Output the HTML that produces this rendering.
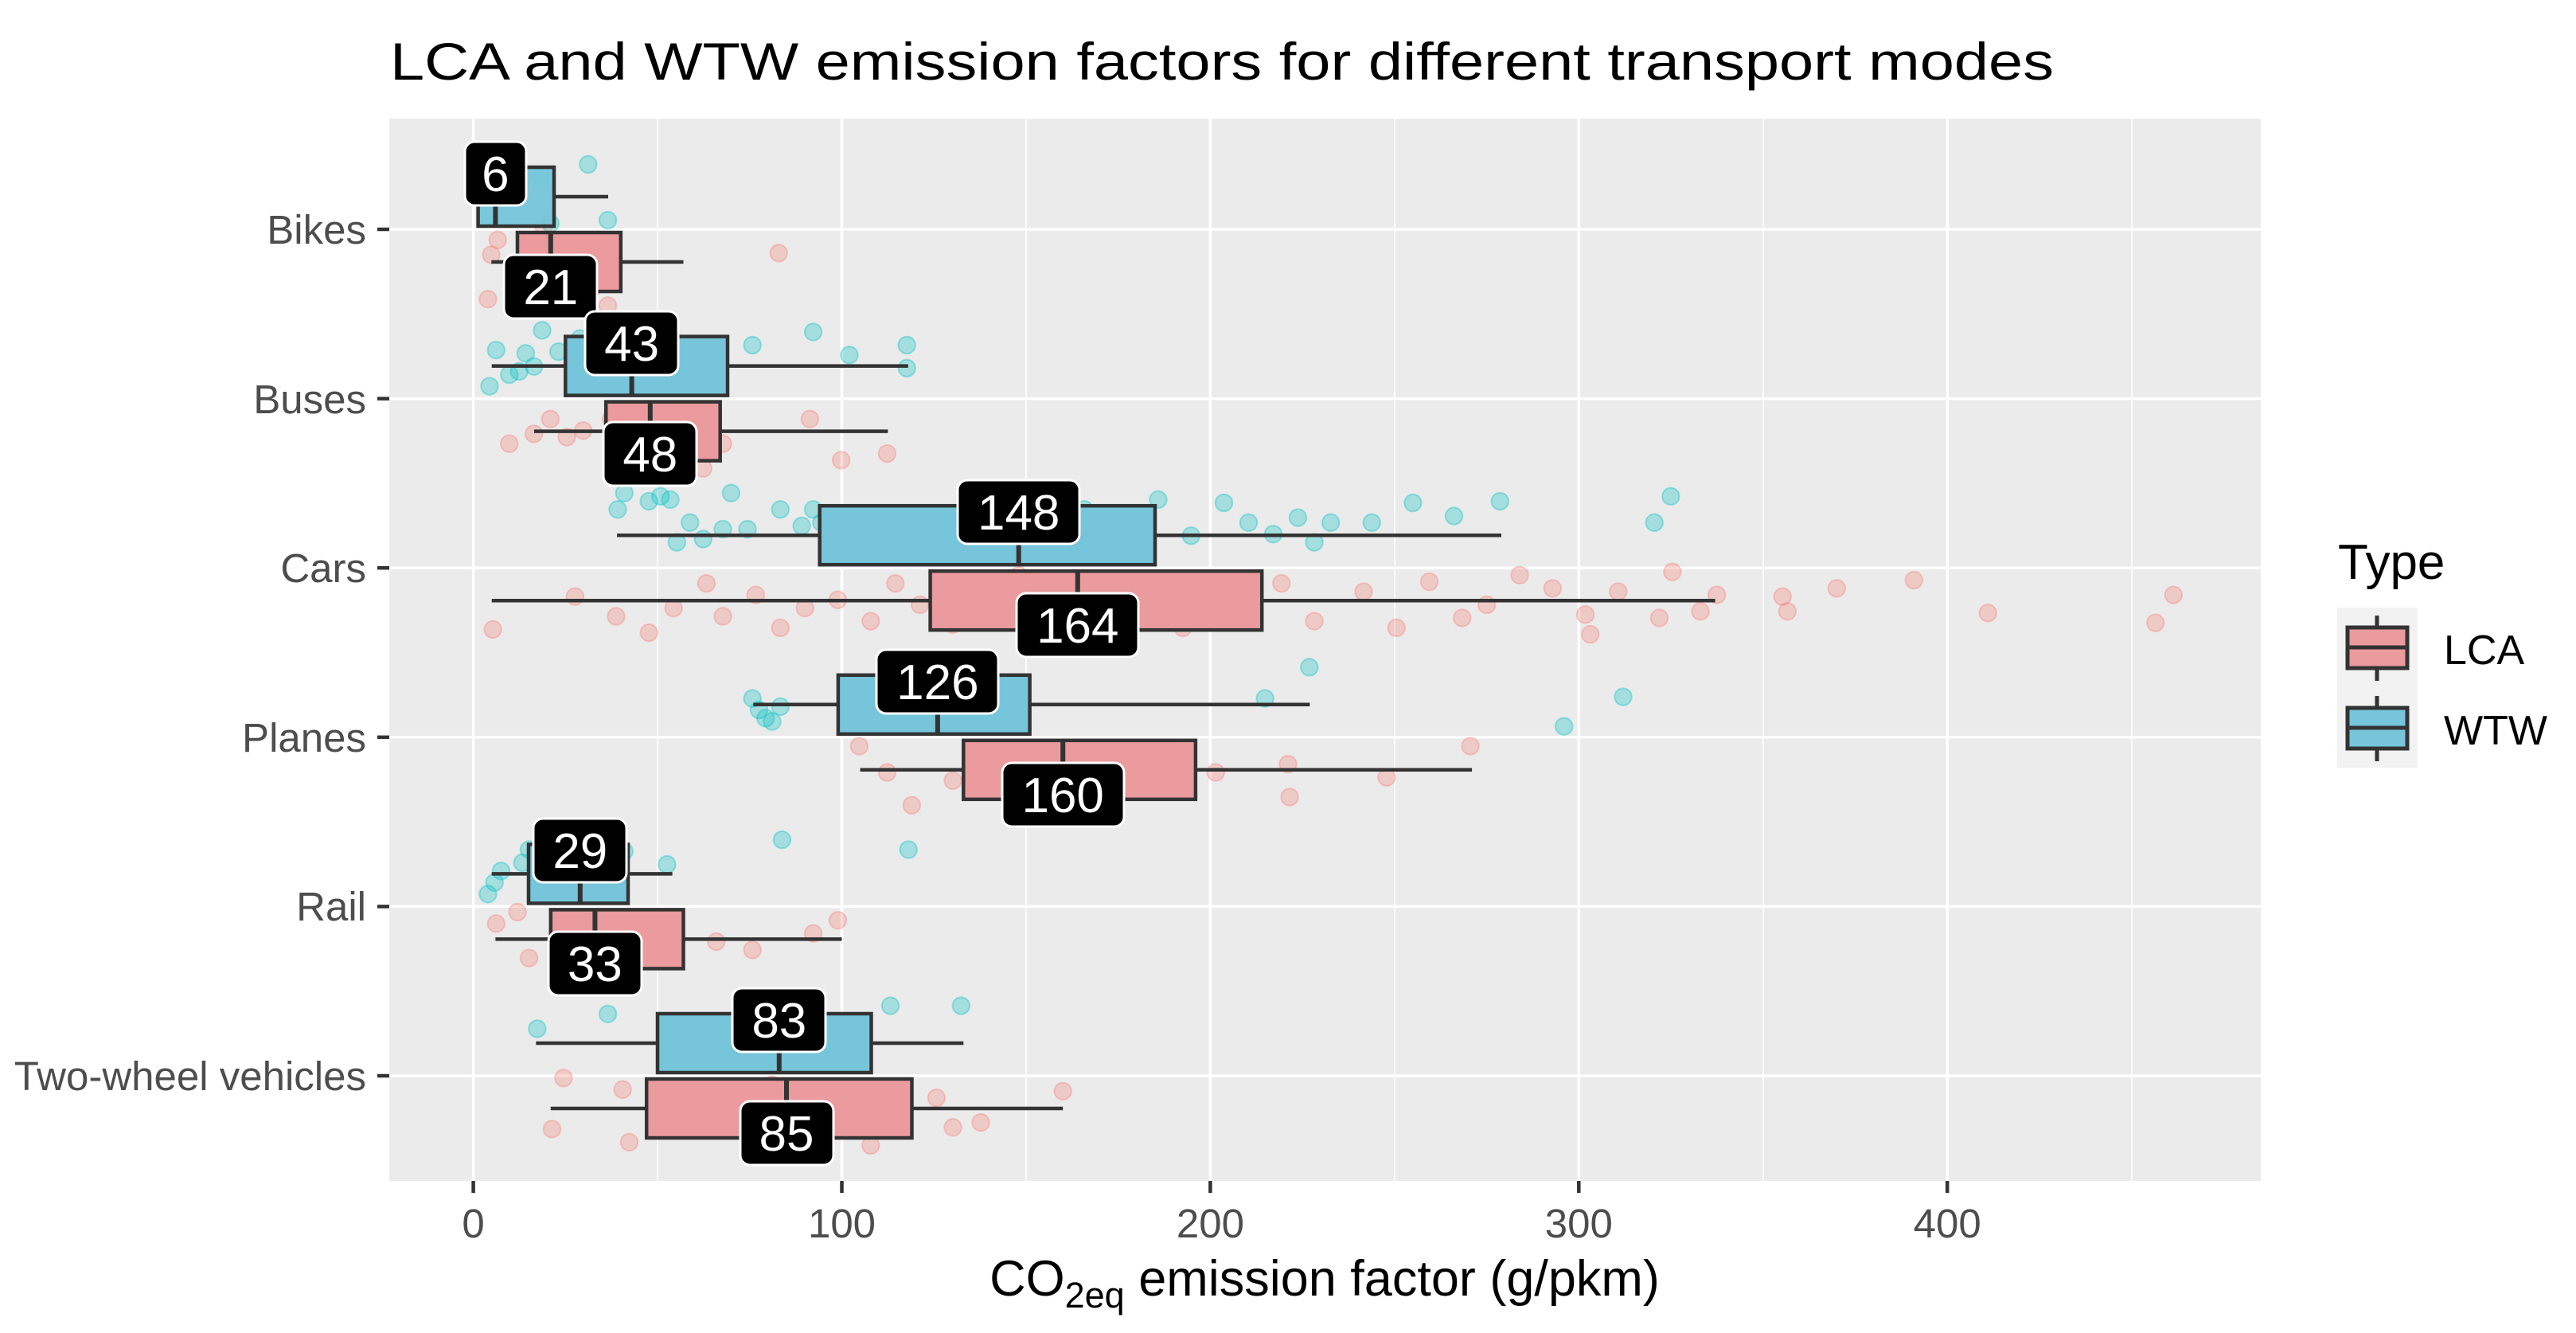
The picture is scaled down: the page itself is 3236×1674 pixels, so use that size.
<!DOCTYPE html>
<html><head><meta charset="utf-8"><style>
html,body{margin:0;padding:0;background:#fff;}
svg{display:block;font-family:"Liberation Sans",Arial,sans-serif;}
</style></head><body>
<svg width="3236" height="1674" viewBox="0 0 3236 1674" xmlns="http://www.w3.org/2000/svg">
<rect width="3236" height="1674" fill="#fff"/>
<text x="490" y="100" font-size="66" fill="#000" textLength="2090" lengthAdjust="spacingAndGlyphs">LCA and WTW emission factors for different transport modes</text>
<!-- panel -->
<rect x="489" y="149" width="2351" height="1334" fill="#ebebeb"/>
<g stroke="#fff" stroke-width="1.6">
<line x1="826" y1="149" x2="826" y2="1483"/><line x1="1289" y1="149" x2="1289" y2="1483"/><line x1="1752" y1="149" x2="1752" y2="1483"/><line x1="2215" y1="149" x2="2215" y2="1483"/><line x1="2678" y1="149" x2="2678" y2="1483"/>
</g>
<g stroke="#fff" stroke-width="3.5">
<line x1="594.6" y1="149" x2="594.6" y2="1483"/><line x1="1057.5" y1="149" x2="1057.5" y2="1483"/><line x1="1520.4" y1="149" x2="1520.4" y2="1483"/><line x1="1983.3" y1="149" x2="1983.3" y2="1483"/><line x1="2446.2" y1="149" x2="2446.2" y2="1483"/>
<line x1="489" y1="288" x2="2840" y2="288"/><line x1="489" y1="500.6" x2="2840" y2="500.6"/><line x1="489" y1="713.2" x2="2840" y2="713.2"/><line x1="489" y1="925.8" x2="2840" y2="925.8"/><line x1="489" y1="1138.4" x2="2840" y2="1138.4"/><line x1="489" y1="1351" x2="2840" y2="1351"/>
</g>
<!-- points -->
<g transform="scale(2.0638)">
<g fill="#00BFC4" fill-opacity="0.3" stroke="#00BFC4" stroke-opacity="0.35" stroke-width="1">
<circle cx="358" cy="100" r="5.2"/><circle cx="329" cy="108" r="5.2"/><circle cx="370" cy="134" r="5.2"/><circle cx="335" cy="136" r="5.2"/><circle cx="296" cy="128" r="5.2"/>
<circle cx="298" cy="235" r="5.2"/><circle cx="302" cy="213" r="5.2"/><circle cx="320" cy="215" r="5.2"/><circle cx="330" cy="201" r="5.2"/><circle cx="310" cy="228" r="5.2"/><circle cx="316" cy="226" r="5.2"/><circle cx="325" cy="223" r="5.2"/><circle cx="340" cy="214" r="5.2"/><circle cx="353" cy="206" r="5.2"/><circle cx="407" cy="212" r="5.2"/><circle cx="458" cy="210" r="5.2"/><circle cx="495" cy="202" r="5.2"/><circle cx="517" cy="216" r="5.2"/><circle cx="552" cy="210" r="5.2"/><circle cx="552" cy="224" r="5.2"/><circle cx="430" cy="228" r="5.2"/><circle cx="423" cy="230" r="5.2"/><circle cx="436" cy="235" r="5.2"/><circle cx="425" cy="220" r="5.2"/><circle cx="410" cy="235" r="5.2"/>
<circle cx="376" cy="310" r="5.2"/><circle cx="380" cy="300" r="5.2"/><circle cx="395" cy="305" r="5.2"/><circle cx="402" cy="302" r="5.2"/><circle cx="408" cy="304" r="5.2"/><circle cx="412" cy="330" r="5.2"/><circle cx="420" cy="318" r="5.2"/><circle cx="428" cy="328" r="5.2"/><circle cx="440" cy="322" r="5.2"/><circle cx="455" cy="322" r="5.2"/><circle cx="488" cy="320" r="5.2"/><circle cx="495" cy="310" r="5.2"/><circle cx="500" cy="318" r="5.2"/><circle cx="540" cy="325" r="5.2"/><circle cx="560" cy="322" r="5.2"/><circle cx="570" cy="330" r="5.2"/><circle cx="590" cy="305" r="5.2"/><circle cx="640" cy="320" r="5.2"/><circle cx="660" cy="310" r="5.2"/><circle cx="680" cy="318" r="5.2"/><circle cx="705" cy="304" r="5.2"/><circle cx="725" cy="326" r="5.2"/><circle cx="745" cy="306" r="5.2"/><circle cx="760" cy="318" r="5.2"/><circle cx="775" cy="325" r="5.2"/><circle cx="790" cy="315" r="5.2"/><circle cx="800" cy="330" r="5.2"/><circle cx="810" cy="318" r="5.2"/><circle cx="835" cy="318" r="5.2"/><circle cx="860" cy="306" r="5.2"/><circle cx="885" cy="314" r="5.2"/><circle cx="913" cy="305" r="5.2"/><circle cx="1017" cy="302" r="5.2"/><circle cx="1007" cy="318" r="5.2"/><circle cx="445" cy="300" r="5.2"/><circle cx="475" cy="310" r="5.2"/>
<circle cx="458" cy="425" r="5.2"/><circle cx="462" cy="432" r="5.2"/><circle cx="466" cy="437" r="5.2"/><circle cx="470" cy="439" r="5.2"/><circle cx="475" cy="430" r="5.2"/><circle cx="797" cy="406" r="5.2"/><circle cx="988" cy="424" r="5.2"/><circle cx="952" cy="442" r="5.2"/><circle cx="770" cy="425" r="5.2"/><circle cx="560" cy="420" r="5.2"/>
<circle cx="297" cy="544" r="5.2"/><circle cx="301" cy="537" r="5.2"/><circle cx="305" cy="530" r="5.2"/><circle cx="318" cy="525" r="5.2"/><circle cx="322" cy="517" r="5.2"/><circle cx="330" cy="522" r="5.2"/><circle cx="345" cy="533" r="5.2"/><circle cx="380" cy="518" r="5.2"/><circle cx="406" cy="526" r="5.2"/><circle cx="476" cy="511" r="5.2"/><circle cx="553" cy="517" r="5.2"/>
<circle cx="327" cy="626" r="5.2"/><circle cx="370" cy="617" r="5.2"/><circle cx="432" cy="637" r="5.2"/><circle cx="451" cy="612" r="5.2"/><circle cx="542" cy="612" r="5.2"/><circle cx="585" cy="612" r="5.2"/>
</g>
<g fill="#F8766D" fill-opacity="0.28" stroke="#F8766D" stroke-opacity="0.33" stroke-width="1">
<circle cx="474" cy="154" r="5.2"/><circle cx="299" cy="155" r="5.2"/><circle cx="303" cy="146" r="5.2"/><circle cx="360" cy="176" r="5.2"/><circle cx="350" cy="168" r="5.2"/><circle cx="370" cy="186" r="5.2"/><circle cx="297" cy="182" r="5.2"/><circle cx="331" cy="138" r="5.2"/>
<circle cx="325" cy="264" r="5.2"/><circle cx="335" cy="255" r="5.2"/><circle cx="345" cy="266" r="5.2"/><circle cx="355" cy="262" r="5.2"/><circle cx="372" cy="255" r="5.2"/><circle cx="390" cy="250" r="5.2"/><circle cx="425" cy="270" r="5.2"/><circle cx="427" cy="262" r="5.2"/><circle cx="440" cy="270" r="5.2"/><circle cx="493" cy="255" r="5.2"/><circle cx="512" cy="280" r="5.2"/><circle cx="540" cy="276" r="5.2"/><circle cx="310" cy="270" r="5.2"/><circle cx="428" cy="285" r="5.2"/>
<circle cx="300" cy="383" r="5.2"/><circle cx="350" cy="363" r="5.2"/><circle cx="375" cy="375" r="5.2"/><circle cx="395" cy="385" r="5.2"/><circle cx="410" cy="370" r="5.2"/><circle cx="430" cy="355" r="5.2"/><circle cx="440" cy="375" r="5.2"/><circle cx="460" cy="362" r="5.2"/><circle cx="475" cy="382" r="5.2"/><circle cx="490" cy="370" r="5.2"/><circle cx="510" cy="365" r="5.2"/><circle cx="530" cy="378" r="5.2"/><circle cx="545" cy="355" r="5.2"/><circle cx="560" cy="368" r="5.2"/><circle cx="580" cy="380" r="5.2"/><circle cx="600" cy="358" r="5.2"/><circle cx="640" cy="372" r="5.2"/><circle cx="700" cy="360" r="5.2"/><circle cx="720" cy="382" r="5.2"/><circle cx="740" cy="365" r="5.2"/><circle cx="760" cy="372" r="5.2"/><circle cx="780" cy="355" r="5.2"/><circle cx="800" cy="378" r="5.2"/><circle cx="830" cy="360" r="5.2"/><circle cx="850" cy="382" r="5.2"/><circle cx="870" cy="354" r="5.2"/><circle cx="890" cy="376" r="5.2"/><circle cx="905" cy="368" r="5.2"/><circle cx="925" cy="350" r="5.2"/><circle cx="945" cy="358" r="5.2"/><circle cx="965" cy="374" r="5.2"/><circle cx="968" cy="386" r="5.2"/><circle cx="985" cy="360" r="5.2"/><circle cx="1010" cy="376" r="5.2"/><circle cx="1018" cy="348" r="5.2"/><circle cx="1035" cy="372" r="5.2"/><circle cx="1045" cy="362" r="5.2"/><circle cx="1085" cy="363" r="5.2"/><circle cx="1088" cy="372" r="5.2"/><circle cx="1118" cy="358" r="5.2"/><circle cx="1165" cy="353" r="5.2"/><circle cx="1210" cy="373" r="5.2"/><circle cx="1312" cy="379" r="5.2"/><circle cx="1323" cy="362" r="5.2"/><circle cx="680" cy="390" r="5.2"/><circle cx="620" cy="350" r="5.2"/>
<circle cx="523" cy="454" r="5.2"/><circle cx="540" cy="470" r="5.2"/><circle cx="555" cy="490" r="5.2"/><circle cx="580" cy="475" r="5.2"/><circle cx="680" cy="460" r="5.2"/><circle cx="740" cy="470" r="5.2"/><circle cx="785" cy="485" r="5.2"/><circle cx="844" cy="473" r="5.2"/><circle cx="895" cy="454" r="5.2"/><circle cx="784" cy="465" r="5.2"/><circle cx="620" cy="485" r="5.2"/>
<circle cx="302" cy="562" r="5.2"/><circle cx="315" cy="555" r="5.2"/><circle cx="322" cy="583" r="5.2"/><circle cx="340" cy="566" r="5.2"/><circle cx="348" cy="578" r="5.2"/><circle cx="372" cy="570" r="5.2"/><circle cx="410" cy="565" r="5.2"/><circle cx="436" cy="573" r="5.2"/><circle cx="458" cy="578" r="5.2"/><circle cx="495" cy="568" r="5.2"/><circle cx="510" cy="560" r="5.2"/>
<circle cx="336" cy="687" r="5.2"/><circle cx="343" cy="656" r="5.2"/><circle cx="379" cy="663" r="5.2"/><circle cx="383" cy="695" r="5.2"/><circle cx="400" cy="676" r="5.2"/><circle cx="456" cy="670" r="5.2"/><circle cx="530" cy="697" r="5.2"/><circle cx="570" cy="668" r="5.2"/><circle cx="580" cy="686" r="5.2"/><circle cx="597" cy="683" r="5.2"/><circle cx="647" cy="664" r="5.2"/><circle cx="470" cy="660" r="5.2"/>
</g>
</g>
<!-- boxes -->
<g stroke="#333" stroke-width="4.5">
<line x1="696" y1="247" x2="764" y2="247"/><rect x="600.6" y="210" width="95.4" height="74" fill="#76c5da" fill-opacity="0.95"/><line x1="622.4" y1="210" x2="622.4" y2="284" stroke-width="6"/>
<line x1="617.3" y1="329" x2="650" y2="329"/><line x1="779.8" y1="329" x2="858.5" y2="329"/><rect x="650" y="292" width="129.8" height="74" fill="#eb9a9d"/><line x1="691.8" y1="292" x2="691.8" y2="366" stroke-width="6"/>
<line x1="617.7" y1="459.6" x2="710.3" y2="459.6"/><line x1="914" y1="459.6" x2="1140.8" y2="459.6"/><rect x="710.3" y="422.6" width="203.7" height="74" fill="#76c5da"/><line x1="793.6" y1="422.6" x2="793.6" y2="496.6" stroke-width="6"/>
<line x1="671" y1="541.6" x2="761.2" y2="541.6"/><line x1="904.7" y1="541.6" x2="1115.4" y2="541.6"/><rect x="761.2" y="504.6" width="143.5" height="74" fill="#eb9a9d"/><line x1="816.8" y1="504.6" x2="816.8" y2="578.6" stroke-width="6"/>
<line x1="775.1" y1="672.2" x2="1029.7" y2="672.2"/><line x1="1451" y1="672.2" x2="1886" y2="672.2"/><rect x="1029.7" y="635.2" width="421.3" height="74" fill="#76c5da"/><line x1="1279.7" y1="635.2" x2="1279.7" y2="709.2" stroke-width="6"/>
<line x1="617.7" y1="754.2" x2="1168.6" y2="754.2"/><line x1="1585.2" y1="754.2" x2="2154.6" y2="754.2"/><rect x="1168.6" y="717.2" width="416.6" height="74" fill="#eb9a9d"/><line x1="1353.8" y1="717.2" x2="1353.8" y2="791.2" stroke-width="6"/>
<line x1="946.4" y1="884.8" x2="1052.9" y2="884.8"/><line x1="1293.6" y1="884.8" x2="1645.4" y2="884.8"/><rect x="1052.9" y="847.8" width="240.7" height="74" fill="#76c5da"/><line x1="1177.9" y1="847.8" x2="1177.9" y2="921.8" stroke-width="6"/>
<line x1="1080.6" y1="966.8" x2="1210.3" y2="966.8"/><line x1="1501.9" y1="966.8" x2="1849.1" y2="966.8"/><rect x="1210.3" y="929.8" width="291.6" height="74" fill="#eb9a9d"/><line x1="1335.2" y1="929.8" x2="1335.2" y2="1003.8" stroke-width="6"/>
<line x1="617.7" y1="1097.4" x2="664" y2="1097.4"/><line x1="789" y1="1097.4" x2="844.6" y2="1097.4"/><rect x="664" y="1060.4" width="125" height="74" fill="#76c5da"/><line x1="728.8" y1="1060.4" x2="728.8" y2="1134.4" stroke-width="6"/>
<line x1="622.4" y1="1179.4" x2="691.8" y2="1179.4"/><line x1="858.5" y1="1179.4" x2="1057.5" y2="1179.4"/><rect x="691.8" y="1142.4" width="166.7" height="74" fill="#eb9a9d"/><line x1="747.4" y1="1142.4" x2="747.4" y2="1216.4" stroke-width="6"/>
<line x1="673.3" y1="1310" x2="826" y2="1310"/><line x1="1094.5" y1="1310" x2="1210.3" y2="1310"/><rect x="826" y="1273" width="268.5" height="74" fill="#76c5da"/><line x1="978.8" y1="1273" x2="978.8" y2="1347" stroke-width="6"/>
<line x1="691.8" y1="1392" x2="812.2" y2="1392"/><line x1="1145.5" y1="1392" x2="1335.2" y2="1392"/><rect x="812.2" y="1355" width="333.3" height="74" fill="#eb9a9d"/><line x1="988" y1="1355" x2="988" y2="1429" stroke-width="6"/>
</g>
<!-- labels -->
<g font-size="62" fill="#fff" text-anchor="middle" stroke="none">
<g fill="#000" stroke="#fff" stroke-width="3">
<rect x="584" y="178" width="77" height="80" rx="12"/>
<rect x="633" y="320" width="117" height="80" rx="12"/>
<rect x="735" y="391" width="117" height="80" rx="12"/>
<rect x="758" y="530" width="117" height="80" rx="12"/>
<rect x="1203" y="603" width="153" height="80" rx="12"/>
<rect x="1277" y="745" width="153" height="80" rx="12"/>
<rect x="1101" y="816" width="153" height="80" rx="12"/>
<rect x="1259" y="958" width="153" height="80" rx="12"/>
<rect x="670" y="1028" width="117" height="80" rx="12"/>
<rect x="689" y="1170" width="117" height="80" rx="12"/>
<rect x="920" y="1241" width="117" height="80" rx="12"/>
<rect x="930" y="1383" width="117" height="80" rx="12"/>
</g>
<text x="622.4" y="240">6</text>
<text x="691.8" y="382">21</text>
<text x="793.6" y="453">43</text>
<text x="816.8" y="592">48</text>
<text x="1279.7" y="665">148</text>
<text x="1353.8" y="807">164</text>
<text x="1177.9" y="878">126</text>
<text x="1335.2" y="1020">160</text>
<text x="728.8" y="1090">29</text>
<text x="747.4" y="1232">33</text>
<text x="978.8" y="1303">83</text>
<text x="988" y="1445">85</text>
</g>
<!-- axes -->
<g stroke="#333" stroke-width="4.5">
<line x1="474" y1="288" x2="489" y2="288"/><line x1="474" y1="500.6" x2="489" y2="500.6"/><line x1="474" y1="713.2" x2="489" y2="713.2"/><line x1="474" y1="925.8" x2="489" y2="925.8"/><line x1="474" y1="1138.4" x2="489" y2="1138.4"/><line x1="474" y1="1351" x2="489" y2="1351"/>
<line x1="594.6" y1="1483" x2="594.6" y2="1498"/><line x1="1057.5" y1="1483" x2="1057.5" y2="1498"/><line x1="1520.4" y1="1483" x2="1520.4" y2="1498"/><line x1="1983.3" y1="1483" x2="1983.3" y2="1498"/><line x1="2446.2" y1="1483" x2="2446.2" y2="1498"/>
</g>
<g font-size="51" fill="#4d4d4d" text-anchor="end">
<text x="460" y="306">Bikes</text>
<text x="460" y="519">Buses</text>
<text x="460" y="731">Cars</text>
<text x="460" y="944">Planes</text>
<text x="460" y="1156">Rail</text>
<text x="460" y="1369">Two-wheel vehicles</text>
</g>
<g font-size="51" fill="#4d4d4d" text-anchor="middle">
<text x="594.6" y="1554">0</text><text x="1057.5" y="1554">100</text><text x="1520.4" y="1554">200</text><text x="1983.3" y="1554">300</text><text x="2446.2" y="1554">400</text>
</g>
<text x="1664" y="1627" font-size="63" fill="#000" text-anchor="middle">CO<tspan font-size="45" dy="15">2eq</tspan><tspan dy="-15"> emission factor (g/pkm)</tspan></text>
<!-- legend -->
<text x="2937" y="727" font-size="62" fill="#000">Type</text>
<rect x="2936" y="763" width="101" height="201" fill="#f2f2f2"/>
<g stroke="#333" stroke-width="5">
<line x1="2986" y1="773" x2="2986" y2="855"/>
<rect x="2949" y="788" width="75" height="51" fill="#eb9a9d"/><line x1="2949" y1="813" x2="3024" y2="813"/>
<line x1="2986" y1="874" x2="2986" y2="956"/>
<rect x="2949" y="889" width="75" height="51" fill="#76c5da"/><line x1="2949" y1="914" x2="3024" y2="914"/>
</g>
<g font-size="52" fill="#000">
<text x="3070" y="834">LCA</text>
<text x="3070" y="935">WTW</text>
</g>
</svg>
</body></html>
